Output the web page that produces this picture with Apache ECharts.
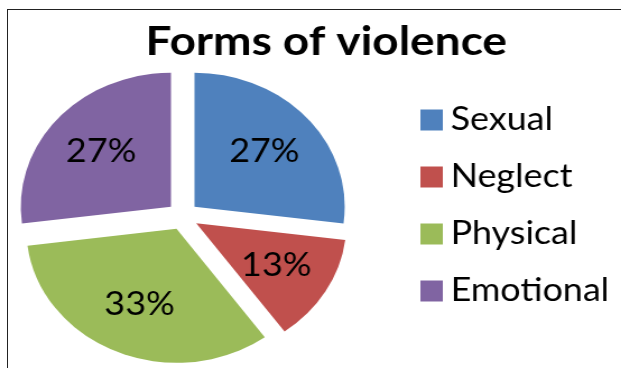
<!DOCTYPE html>
<html>
<head>
<meta charset="utf-8">
<script src="https://cdn.jsdelivr.net/npm/echarts@6/dist/echarts.min.js"></script>
<style>
  html, body { margin: 0; padding: 0; background: #fff; overflow: hidden; }
  #frame { position: absolute; left: 7px; top: 9px; width: 700px; height: 400px; border-left: 1px solid #222; border-top: 1px solid #222; }
  /* the original picture is stretched sideways, so the chart is drawn narrower and scaled */
  #main { position: absolute; left: 0; top: 0; width: 554px; height: 368px; transform: scaleX(1.121); transform-origin: 0 0; }
</style>
</head>
<body>
<div id="frame"></div>
<div id="main"></div>
<script>
var dom = document.getElementById("main");
var myChart = echarts.init(dom);

// data
var categories = ['Sexual', 'Neglect', 'Physical', 'Emotional'];
var percents = [27, 13, 33, 27];
var colors = ['#4F81BD', '#C0504D', '#9BBB59', '#8064A2'];

var font = 'Lato, "Open Sans", sans-serif';

function makeData(withColor) {
	var arr = [];
	for (var i = 0; i < categories.length; i++) {
		arr.push({
			name: categories[i],
			value: percents[i],
			selected: true,
			itemStyle: { color: withColor ? colors[i] : 'rgba(0,0,0,0)' }
		});
	}
	return arr;
}

var option = {
	animation: false,
	title: {
		text: 'Forms of violence',
		left: 286,
		textAlign: 'center',
		top: 16,
		textStyle: { fontFamily: font, fontSize: 41, fontWeight: 'bold', color: '#000', lineHeight: 41 }
	},
	legend: {
		orient: 'vertical',
		left: 370,
		top: 97,
		icon: 'rect',
		itemWidth: 20,
		itemHeight: 21,
		itemGap: 21,
		selectedMode: false,
		data: categories,
		textStyle: { fontFamily: font, fontSize: 32, color: '#000', lineHeight: 36, padding: [0, 0, 0, 2] }
	},
	series: [{
		// the slices
		type: 'pie',
		center: [163, 216],
		radius: 134,
		startAngle: 90,
		selectedMode: 'multiple',
		selectedOffset: 14,
		silent: true,
		label: { show: false },
		labelLine: { show: false },
		itemStyle: { borderWidth: 0 },
		emphasis: { disabled: true },
		data: makeData(true)
	}, {
		// invisible ring that carries the percent labels a little further out
		type: 'pie',
		center: [163, 216],
		radius: [30, 130],
		startAngle: 90,
		selectedMode: 'multiple',
		selectedOffset: 14,
		silent: true,
		label: {
			show: true,
			position: 'inside',
			formatter: '{c}%',
			fontFamily: font,
			fontSize: 32,
			color: '#000'
		},
		labelLine: { show: false },
		emphasis: { disabled: true },
		data: makeData(false)
	}]
};
myChart.setOption(option);
</script>
</body>
</html>
